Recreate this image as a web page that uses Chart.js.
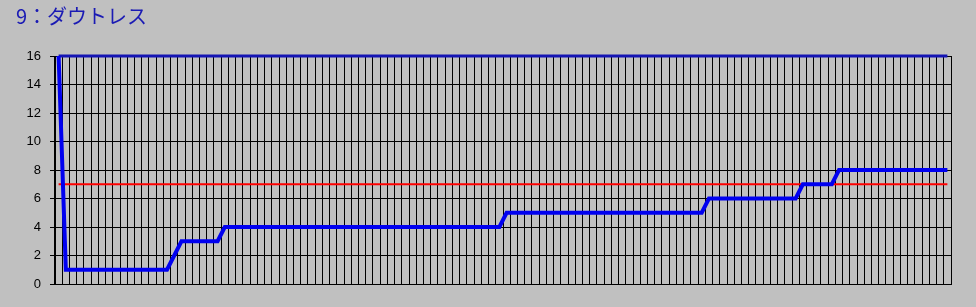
<!DOCTYPE html>
<html>
<head>
<meta charset="utf-8">
<script src="https://cdn.jsdelivr.net/npm/chart.js@4/dist/chart.umd.min.js"></script>
<style>
  html, body { margin: 0; padding: 0; background: #c0c0c0; }
  #wrap { width: 976px; height: 307px; }
</style>
</head>
<body>
<div id="wrap"><canvas id="graphe" width="976" height="307"></canvas></div>
<script>
// Données du graphique (124 relevés)
var titre = '9：ダウトレス';

var valeurs = [
  16, 1, 1, 1, 1, 1, 1, 1, 1, 1, 1, 1, 1, 1, 1, 1, 2, 3, 3, 3,
  3, 3, 3, 4, 4, 4, 4, 4, 4, 4, 4, 4, 4, 4, 4, 4, 4, 4, 4, 4,
  4, 4, 4, 4, 4, 4, 4, 4, 4, 4, 4, 4, 4, 4, 4, 4, 4, 4, 4, 4,
  4, 4, 5, 5, 5, 5, 5, 5, 5, 5, 5, 5, 5, 5, 5, 5, 5, 5, 5, 5,
  5, 5, 5, 5, 5, 5, 5, 5, 5, 5, 6, 6, 6, 6, 6, 6, 6, 6, 6, 6,
  6, 6, 6, 7, 7, 7, 7, 7, 8, 8, 8, 8, 8, 8, 8, 8, 8, 8, 8, 8,
  8, 8, 8, 8
];

var seuil = [
  7, 7, 7, 7, 7, 7, 7, 7, 7, 7, 7, 7, 7, 7, 7, 7, 7, 7, 7, 7,
  7, 7, 7, 7, 7, 7, 7, 7, 7, 7, 7, 7, 7, 7, 7, 7, 7, 7, 7, 7,
  7, 7, 7, 7, 7, 7, 7, 7, 7, 7, 7, 7, 7, 7, 7, 7, 7, 7, 7, 7,
  7, 7, 7, 7, 7, 7, 7, 7, 7, 7, 7, 7, 7, 7, 7, 7, 7, 7, 7, 7,
  7, 7, 7, 7, 7, 7, 7, 7, 7, 7, 7, 7, 7, 7, 7, 7, 7, 7, 7, 7,
  7, 7, 7, 7, 7, 7, 7, 7, 7, 7, 7, 7, 7, 7, 7, 7, 7, 7, 7, 7,
  7, 7, 7, 7
];

var maximum = [
  16, 16, 16, 16, 16, 16, 16, 16, 16, 16, 16, 16, 16, 16, 16, 16, 16, 16, 16, 16,
  16, 16, 16, 16, 16, 16, 16, 16, 16, 16, 16, 16, 16, 16, 16, 16, 16, 16, 16, 16,
  16, 16, 16, 16, 16, 16, 16, 16, 16, 16, 16, 16, 16, 16, 16, 16, 16, 16, 16, 16,
  16, 16, 16, 16, 16, 16, 16, 16, 16, 16, 16, 16, 16, 16, 16, 16, 16, 16, 16, 16,
  16, 16, 16, 16, 16, 16, 16, 16, 16, 16, 16, 16, 16, 16, 16, 16, 16, 16, 16, 16,
  16, 16, 16, 16, 16, 16, 16, 16, 16, 16, 16, 16, 16, 16, 16, 16, 16, 16, 16, 16,
  16, 16, 16, 16
];

var etiquettes = valeurs.map(function(v, i) { return String(i + 1); });

var ctx = document.getElementById('graphe').getContext('2d');

var graphe = new Chart(ctx, {
    type: 'line',
    data: {
        labels: etiquettes,
        datasets: [{
            data: valeurs,
            borderColor: '#0000f0',
            borderWidth: 4,
            pointRadius: 0,
            tension: 0,
            clip: false
        }, {
            data: seuil,
            borderColor: '#ff0000',
            borderWidth: 2,
            pointRadius: 0,
            tension: 0,
            clip: false
        }, {
            data: maximum,
            borderColor: '#1414b4',
            borderWidth: 3,
            pointRadius: 0,
            tension: 0,
            clip: false
        }]
    },
    options: {
        responsive: false,
        animation: false,
        layout: {
            padding: { left: 16, right: 25, top: 1, bottom: 23 }
        },
        plugins: {
            legend: { display: false },
            tooltip: { enabled: false },
            title: {
                display: true,
                text: titre,
                align: 'start',
                color: '#1a1ab4',
                font: { family: '"Noto Sans CJK JP", "Noto Sans", sans-serif', size: 20, weight: 'normal' },
                padding: { top: 3, bottom: 28 }
            }
        },
        scales: {
            x: {
                offset: true,
                grid: { display: true, offset: true, color: '#000000', lineWidth: 1, drawTicks: false },
                border: { display: true, color: '#000000' },
                ticks: { display: false }
            },
            y: {
                min: 0,
                max: 16,
                afterFit: function(scale) { scale.width = 39; },
                grid: { color: '#000000', lineWidth: 1, tickLength: 5 },
                border: { display: true, color: '#000000' },
                ticks: {
                    stepSize: 2,
                    padding: 9,
                    color: '#000000',
                    font: { family: '"Liberation Sans", Arial, sans-serif', size: 13 }
                }
            }
        }
    }
});
</script>
</body>
</html>
